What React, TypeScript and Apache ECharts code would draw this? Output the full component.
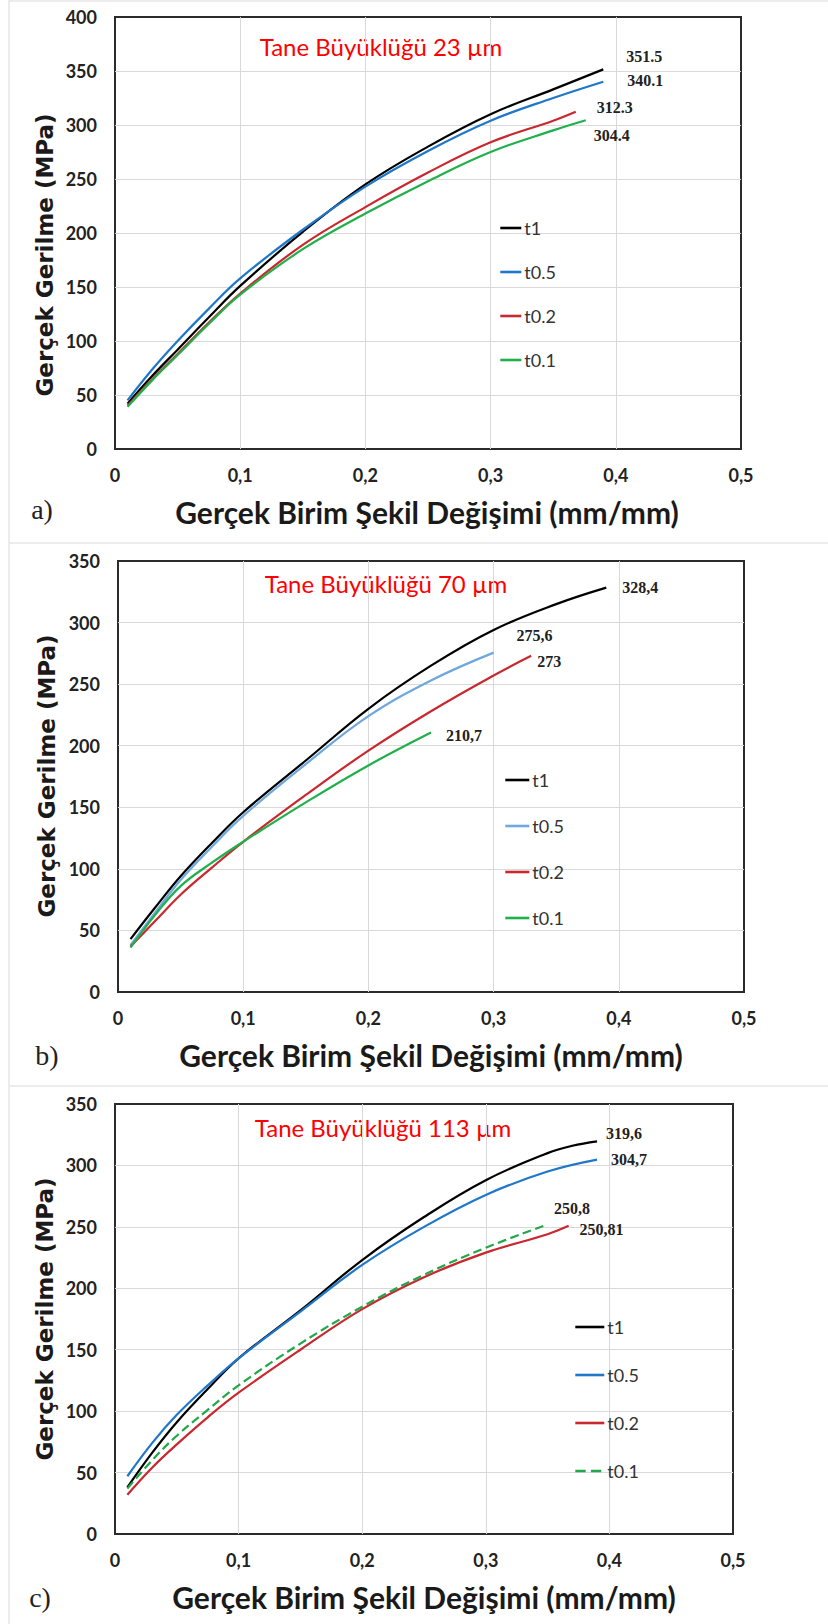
import React, { useEffect, useRef } from "react";
import * as echarts from "echarts";

// ---------- DATA ----------
const seriesNames = ["t1", "t0.5", "t0.2", "t0.1"];
const xTickLabels = ["0", "0,1", "0,2", "0,3", "0,4", "0,5"];
const panelTitles = ["Tane Büyüklüğü 23 µm", "Tane Büyüklüğü 70 µm", "Tane Büyüklüğü 113 µm"];
const panelLetters = ["a)", "b)", "c)"];
const yAxisMax = [400, 350, 350];
const xTitle = "Gerçek Birim Şekil Değişimi (mm/mm)";
const yTitle = "Gerçek Gerilme (MPa)";

// Panel a (23 µm)
const strainA_t1 = [0.01, 0.03, 0.05, 0.075, 0.1, 0.15, 0.2, 0.25, 0.3, 0.35, 0.39];
const stressA_t1 = [42, 68, 92, 122, 151, 201, 245, 280, 310, 333, 351.5];
const strainA_t05 = [0.01, 0.03, 0.05, 0.075, 0.1, 0.15, 0.2, 0.25, 0.3, 0.35, 0.39];
const stressA_t05 = [45, 74, 100, 130, 158, 203, 243, 276, 304, 325, 340.1];
const strainA_t02 = [0.01, 0.03, 0.05, 0.075, 0.1, 0.15, 0.2, 0.25, 0.3, 0.35, 0.368];
const stressA_t02 = [40, 65, 88, 117, 144, 189, 224, 256, 284, 304, 312.3];
const strainA_t01 = [0.01, 0.03, 0.05, 0.075, 0.1, 0.15, 0.2, 0.25, 0.3, 0.35, 0.376];
const stressA_t01 = [39, 64, 87, 116, 143, 185, 218, 248, 275, 295, 304.4];
const endLabelsA = ["351.5", "340.1", "312.3", "304.4"];

// Panel b (70 µm)
const strainB_t1 = [0.01, 0.03, 0.05, 0.075, 0.1, 0.15, 0.2, 0.25, 0.3, 0.35, 0.39];
const stressB_t1 = [43, 69, 94, 121, 146, 188, 230, 265, 294, 315, 328.4];
const strainB_t05 = [0.01, 0.03, 0.05, 0.075, 0.1, 0.15, 0.2, 0.25, 0.3];
const stressB_t05 = [38, 65, 91, 118, 143, 185, 224, 253, 275.6];
const strainB_t02 = [0.01, 0.03, 0.05, 0.075, 0.1, 0.15, 0.2, 0.25, 0.3, 0.33];
const stressB_t02 = [37, 58, 79, 101, 122, 160, 196, 228, 257, 273];
const strainB_t01 = [0.01, 0.03, 0.05, 0.075, 0.1, 0.15, 0.2, 0.25];
const stressB_t01 = [36, 63, 86, 105, 122, 154, 184, 210.7];
const endLabelsB = ["328,4", "275,6", "273", "210,7"];

// Panel c (113 µm)
const strainC_t1 = [0.01, 0.03, 0.05, 0.075, 0.1, 0.15, 0.2, 0.25, 0.3, 0.35, 0.37, 0.39];
const stressC_t1 = [38, 66, 91, 118, 143, 182, 223, 258, 288, 310, 316, 319.6];
const strainC_t05 = [0.01, 0.03, 0.05, 0.075, 0.1, 0.15, 0.2, 0.25, 0.3, 0.35, 0.39];
const stressC_t05 = [47, 74, 97, 121, 143, 181, 219, 250, 276, 295, 304.7];
const strainC_t02 = [0.01, 0.03, 0.05, 0.075, 0.1, 0.15, 0.2, 0.25, 0.3, 0.35, 0.367];
const stressC_t02 = [32, 54, 73, 95, 115, 150, 183, 209, 229, 244, 250.81];
const strainC_t01 = [0.01, 0.03, 0.05, 0.075, 0.1, 0.15, 0.2, 0.25, 0.3, 0.347];
const stressC_t01 = [37, 60, 80, 101, 121, 155, 185, 211, 233, 250.8];
const endLabelsC = ["319,6", "304,7", "250,81", "250,8"];

// ---------- LAYOUT / STYLE ----------
const grids = [
  { left: 115, top: 17, width: 626, height: 432 },
  { left: 118, top: 561, width: 626, height: 431 },
  { left: 115, top: 1104, width: 618, height: 430 },
];
const panelColors = [
  ["#000000", "#1f77c9", "#c8282e", "#20b04b"],
  ["#000000", "#6fa8dc", "#c8282e", "#20b04b"],
  ["#000000", "#1f77c9", "#c8282e", "#20a84a"],
];
const panelDash = [
  ["solid", "solid", "solid", "solid"],
  ["solid", "solid", "solid", "solid"],
  ["solid", "solid", "solid", "dashed"],
];
const endLabelOffsets = [
  [[15, -13], [16, -1], [13, -4], [0, 15]],
  [[8, 0], [15, -17], [-2, 6], [7, 3]],
  [[1, -8], [6, 0], [3, 4], [2, -17]],
];
const legendPos = [
  { left: 499, top: 219, itemWidth: 21, itemGap: 26 },
  { left: 504, top: 771, itemWidth: 24, itemGap: 28 },
  { left: 574, top: 1318, itemWidth: 29, itemGap: 30 },
];
const titlePos = [[381, 46], [386, 583], [383, 1127]];
const xTitlePos = [[427, 512], [431, 1055], [424, 1597]];
const yTitlePos = [[45, 255], [47, 776], [45, 1319]];
const letterPos = [[42, 509], [47, 1055], [40, 1597]];

const strains = [
  [strainA_t1, strainA_t05, strainA_t02, strainA_t01],
  [strainB_t1, strainB_t05, strainB_t02, strainB_t01],
  [strainC_t1, strainC_t05, strainC_t02, strainC_t01],
];
const stresses = [
  [stressA_t1, stressA_t05, stressA_t02, stressA_t01],
  [stressB_t1, stressB_t05, stressB_t02, stressB_t01],
  [stressC_t1, stressC_t05, stressC_t02, stressC_t01],
];
const endLabels = [endLabelsA, endLabelsB, endLabelsC];
const prefixes = ["a", "b", "c"];

function buildOption() {
  const xAxes: any[] = [];
  const yAxes: any[] = [];
  const series: any[] = [];
  const legends: any[] = [];
  const graphics: any[] = [];

  const frameColor = "#e6e6e6";
  graphics.push({ type: "line", shape: { x1: 9, y1: 0, x2: 9, y2: 1624 }, style: { stroke: frameColor, lineWidth: 1.5 } });
  graphics.push({ type: "line", shape: { x1: 9, y1: 1, x2: 828, y2: 1 }, style: { stroke: frameColor, lineWidth: 1.5 } });
  graphics.push({ type: "line", shape: { x1: 9, y1: 543, x2: 828, y2: 543 }, style: { stroke: frameColor, lineWidth: 1.5 } });
  graphics.push({ type: "line", shape: { x1: 9, y1: 1086, x2: 828, y2: 1086 }, style: { stroke: frameColor, lineWidth: 1.5 } });

  for (let p = 0; p < 3; p++) {
    xAxes.push({
      type: "value",
      gridIndex: p,
      min: 0,
      max: 0.5,
      interval: 0.1,
      axisLine: { show: false },
      axisTick: { show: false },
      splitLine: { show: true, showMinLine: false, showMaxLine: false, lineStyle: { color: "#d9d9d9", width: 1 } },
      axisLabel: {
        margin: 17,
        fontFamily: "Lato",
        fontWeight: "bold",
        fontSize: 18,
        color: "#222",
        formatter: (_v: number, i: number) => xTickLabels[i],
      },
    });
    yAxes.push({
      type: "value",
      gridIndex: p,
      min: 0,
      max: yAxisMax[p],
      interval: 50,
      axisLine: { show: false },
      axisTick: { show: false },
      splitLine: { show: true, showMinLine: false, showMaxLine: false, lineStyle: { color: "#d9d9d9", width: 1 } },
      axisLabel: { margin: 18, fontFamily: "Lato", fontWeight: "bold", fontSize: 18, color: "#222" },
    });
    const names: string[] = [];
    for (let s = 0; s < 4; s++) {
      const name = prefixes[p] + "_" + seriesNames[s];
      names.push(name);
      const xs = strains[p][s];
      const ys = stresses[p][s];
      const label = endLabels[p][s];
      series.push({
        type: "line",
        name,
        xAxisIndex: p,
        yAxisIndex: p,
        data: xs.map((x, i) => [x, ys[i]]),
        smooth: 0.4,
        symbol: "none",
        showSymbol: false,
        lineStyle: { color: panelColors[p][s], width: 2.2, type: panelDash[p][s] },
        itemStyle: { color: panelColors[p][s] },
        endLabel: {
          show: true,
          distance: 8,
          offset: endLabelOffsets[p][s],
          formatter: () => label,
          fontFamily: "Liberation Serif",
          fontWeight: "bold",
          fontSize: 16,
          color: "#222",
        },
        z: 3,
      });
    }
    legends.push({
      data: names,
      orient: "vertical",
      left: legendPos[p].left,
      top: legendPos[p].top,
      padding: 0,
      itemWidth: legendPos[p].itemWidth,
      itemHeight: 14,
      itemGap: legendPos[p].itemGap,
      selectedMode: false,
      itemStyle: { opacity: 0 },
      lineStyle: { width: 2.6 },
      formatter: (n: string) => n.split("_")[1],
      textStyle: { fontFamily: "Lato", fontSize: 18, color: "#333", padding: [0, 0, 0, -2] },
    });
    graphics.push({
      type: "text",
      x: titlePos[p][0],
      y: titlePos[p][1],
      style: { text: panelTitles[p], fill: "#ff0000", font: "24px Lato", align: "center", verticalAlign: "middle" },
    });
    graphics.push({
      type: "text",
      x: xTitlePos[p][0],
      y: xTitlePos[p][1],
      style: { text: xTitle, fill: "#1a1a1a", font: "bold 30px Lato", align: "center", verticalAlign: "middle" },
    });
    graphics.push({
      type: "text",
      x: yTitlePos[p][0],
      y: yTitlePos[p][1],
      rotation: Math.PI / 2,
      style: { text: yTitle, fill: "#1a1a1a", font: "bold 23px 'DejaVu Sans'", align: "center", verticalAlign: "middle" },
    });
    graphics.push({
      type: "text",
      x: letterPos[p][0],
      y: letterPos[p][1],
      style: { text: panelLetters[p], fill: "#222", font: "28px 'Liberation Serif'", align: "center", verticalAlign: "middle" },
    });
  }

  return {
    animation: false,
    backgroundColor: "#ffffff",
    grid: grids.map((g) => ({ ...g, show: true, borderColor: "#2b2b2b", borderWidth: 2, backgroundColor: "transparent" })),
    xAxis: xAxes,
    yAxis: yAxes,
    legend: legends,
    series,
    graphic: graphics,
  };
}

export default function App() {
  const ref = useRef<HTMLDivElement>(null);
  useEffect(() => {
    if (!ref.current) return;
    const chart = echarts.init(ref.current, null, { renderer: "svg" });
    chart.setOption(buildOption() as any);
    return () => chart.dispose();
  }, []);
  return (
    <div
      ref={ref}
      style={{ position: "absolute", left: 0, top: 0, width: 828, height: 1624, background: "#fff" }}
    />
  );
}
